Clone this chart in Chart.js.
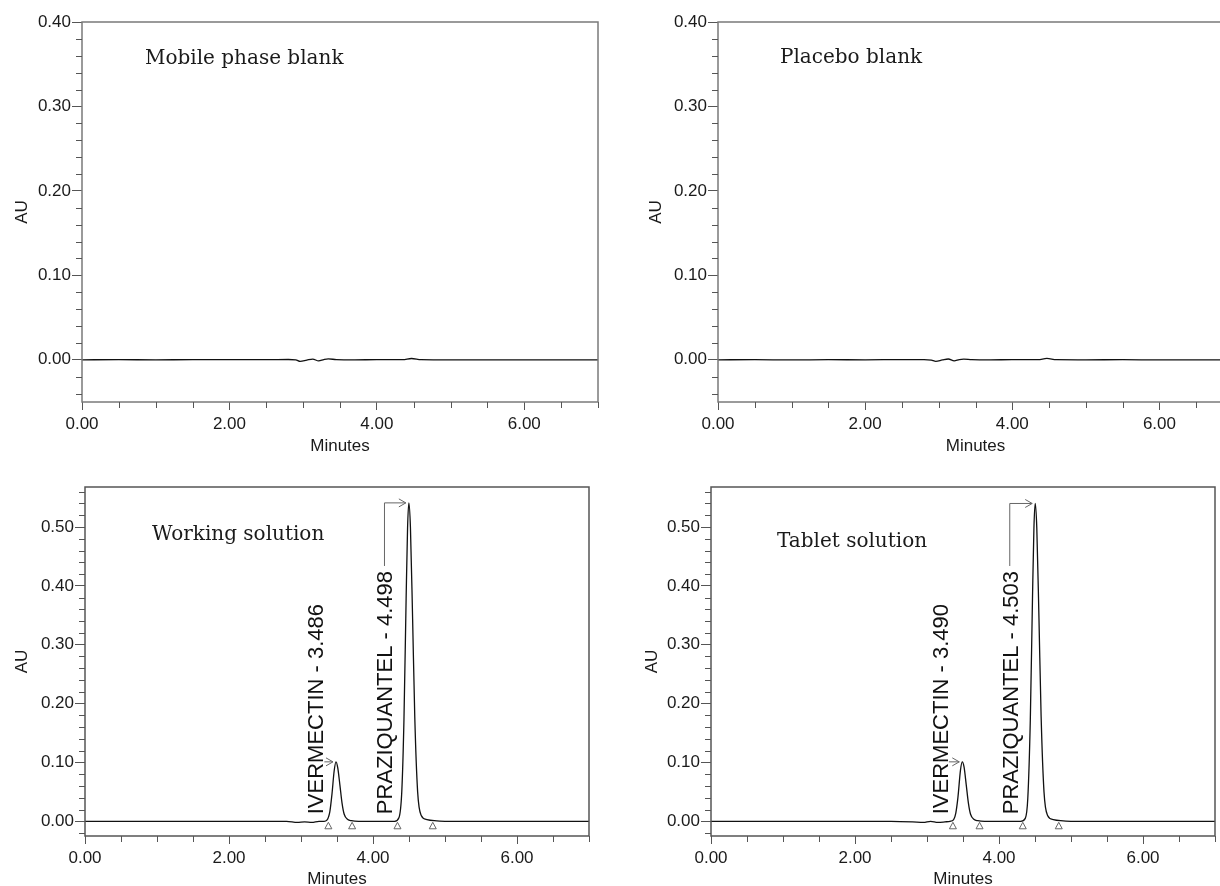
<!DOCTYPE html>
<html>
<head>
<meta charset="utf-8">
<title>Chromatograms</title>
<script src="https://cdn.jsdelivr.net/npm/chart.js@4.4.1/dist/chart.umd.min.js"></script>
<style>
  html, body { margin: 0; padding: 0; background: #fff; }
  body { width: 1220px; height: 886px; overflow: hidden; position: relative; }
  canvas { position: absolute; }
</style>
</head>
<body>
<canvas id="mobileBlank" width="610" height="460" style="left:0;top:0"></canvas>
<canvas id="placeboBlank" width="610" height="460" style="left:636px;top:0"></canvas>
<canvas id="workingSolution" width="600" height="425" style="left:0;top:465px"></canvas>
<canvas id="tabletSolution" width="600" height="425" style="left:626px;top:465px"></canvas>
<script>
// Blank runs (top row) - baseline only
const blankTimes = [0.00, 0.50, 1.00, 1.50, 2.00, 2.50, 2.80, 2.90, 2.96, 3.05, 3.13, 3.21, 3.28, 3.34, 3.45, 3.70, 4.00, 4.35, 4.47, 4.60, 5.00, 5.50, 6.00, 6.50, 7.00];
const mobileBlankAU = [0.0000, 0.0001, 0.0000, 0.0001, 0.0001, 0.0001, 0.0003, 0.0000, -0.0020, -0.0004, 0.0008, -0.0014, 0.0002, 0.0010, 0.0003, 0.0000, 0.0001, 0.0001, 0.0015, 0.0002, -0.0001, 0.0000, -0.0001, -0.0001, 0.0000];
const placeboBlankAU = [0.0000, 0.0001, -0.0001, 0.0001, 0.0000, 0.0002, 0.0002, -0.0003, -0.0018, -0.0002, 0.0009, -0.0013, 0.0003, 0.0008, 0.0002, 0.0000, 0.0001, 0.0001, 0.0016, 0.0001, 0.0000, 0.0001, -0.0001, 0.0000, 0.0000];

// Sample runs (bottom row)
const workingTimes = [0.00, 0.50, 1.00, 1.50, 2.00, 2.50, 2.80, 2.95, 3.05, 3.15, 3.25, 3.32, 3.36, 3.40, 3.43, 3.46, 3.486, 3.51, 3.54, 3.57, 3.60, 3.65, 3.70, 3.80, 4.00, 4.20, 4.30, 4.36, 4.40, 4.43, 4.46, 4.48, 4.498, 4.52, 4.55, 4.58, 4.62, 4.67, 4.75, 4.85, 5.00, 5.50, 6.00, 6.50, 7.00];
const workingAU = [0.000, 0.000, 0.000, 0.000, 0.000, 0.000, 0.000, -0.002, -0.001, -0.002, 0.000, 0.000, 0.002, 0.016, 0.046, 0.085, 0.101, 0.091, 0.062, 0.031, 0.012, 0.003, 0.001, 0.000, 0.000, 0.000, 0.000, 0.006, 0.051, 0.173, 0.378, 0.498, 0.541, 0.499, 0.345, 0.178, 0.050, 0.010, 0.003, 0.001, 0.000, 0.000, 0.000, 0.000, 0.000];
const tabletTimes = [0.00, 0.50, 1.00, 1.50, 2.00, 2.50, 2.80, 2.95, 3.05, 3.15, 3.25, 3.32, 3.37, 3.40, 3.43, 3.465, 3.49, 3.515, 3.545, 3.575, 3.605, 3.655, 3.705, 3.80, 4.00, 4.20, 4.30, 4.365, 4.40, 4.435, 4.465, 4.485, 4.503, 4.525, 4.555, 4.585, 4.625, 4.675, 4.755, 4.855, 5.00, 5.50, 6.00, 6.50, 7.00];
const tabletAU = [0.000, 0.000, 0.000, 0.000, 0.000, 0.000, -0.001, -0.002, 0.000, -0.002, -0.001, 0.000, 0.003, 0.014, 0.041, 0.087, 0.101, 0.092, 0.062, 0.031, 0.012, 0.003, 0.001, 0.000, 0.000, 0.000, 0.000, 0.005, 0.039, 0.173, 0.378, 0.498, 0.540, 0.498, 0.345, 0.178, 0.050, 0.010, 0.003, 0.001, 0.000, 0.000, 0.000, 0.000, 0.000];

// Integrated peaks
const peakNames = ['IVERMECTIN', 'PRAZIQUANTEL'];
const workingRT = [3.486, 4.498];
const workingHeight = [0.101, 0.541];
const workingStart = [3.38, 4.34];
const workingEnd = [3.71, 4.83];
const tabletRT = [3.490, 4.503];
const tabletHeight = [0.101, 0.540];
const tabletStart = [3.36, 4.33];
const tabletEnd = [3.73, 4.83];

// Axis steps
const timeLabelStep = 2;
const timeMinorStep = 0.5;
const auLabelStep = 0.1;
const auMinorStep = 0.02;

const sansFont = { family: '"Liberation Sans", Arial, sans-serif', size: 17 };
const inkColor = '#1a1a1a';

// Frame, minor ticks, panel title and peak annotations
const chromPlugin = {
    id: 'chrom',
    afterDraw(chart, args, o) {
        const { ctx, chartArea: a } = chart;
        const x = chart.scales.x;
        const y = chart.scales.y;
        ctx.save();

        ctx.strokeStyle = o.frameColor;
        ctx.lineWidth = 1.5;
        ctx.strokeRect(a.left, a.top, a.right - a.left, a.bottom - a.top);

        // minor ticks
        ctx.strokeStyle = '#555';
        ctx.lineWidth = 1;
        ctx.beginPath();
        const ratioY = Math.round(auLabelStep / auMinorStep);
        for (let k = Math.ceil(y.min / auMinorStep - 1e-9); k * auMinorStep <= y.max + 1e-9; k++) {
            if (k % ratioY === 0) continue;
            const py = Math.round(y.getPixelForValue(k * auMinorStep)) + 0.5;
            ctx.moveTo(a.left - 6, py);
            ctx.lineTo(a.left, py);
        }
        const ratioX = Math.round(timeLabelStep / timeMinorStep);
        for (let k = 1; k * timeMinorStep <= x.max + 1e-9; k++) {
            if (k % ratioX === 0) continue;
            const px = Math.round(x.getPixelForValue(k * timeMinorStep)) + 0.5;
            ctx.moveTo(px, a.bottom);
            ctx.lineTo(px, a.bottom + 6);
        }
        ctx.stroke();

        // panel title
        ctx.fillStyle = inkColor;
        ctx.font = '20px "DejaVu Serif", serif';
        ctx.textBaseline = 'middle';
        ctx.textAlign = 'left';
        ctx.fillText(o.title, a.left + o.titleDx, a.top + o.titleDy);

        if (o.peaks) {
            const p = o.peaks;
            const y0 = y.getPixelForValue(0);
            ctx.font = '22px "Liberation Sans", Arial, sans-serif';
            ctx.strokeStyle = '#666';
            ctx.lineWidth = 1;
            p.names.forEach((name, i) => {
                const apexX = x.getPixelForValue(p.rt[i]);
                const apexY = y.getPixelForValue(p.height[i]);
                const sx = x.getPixelForValue(p.start[i]);

                // baseline start / end markers
                [p.start[i], p.end[i]].forEach(t => {
                    const tx = x.getPixelForValue(t);
                    ctx.beginPath();
                    ctx.moveTo(tx, y0 + 1);
                    ctx.lineTo(tx - 3.5, y0 + 7.5);
                    ctx.lineTo(tx + 3.5, y0 + 7.5);
                    ctx.closePath();
                    ctx.stroke();
                });

                // rotated label
                const text = name + ' - ' + p.rt[i].toFixed(3);
                const bx = sx - 5;
                const by = y0 - 7;
                ctx.save();
                ctx.translate(bx, by);
                ctx.rotate(-Math.PI / 2);
                ctx.textBaseline = 'alphabetic';
                ctx.fillStyle = '#111';
                ctx.fillText(text, 0, 0);
                ctx.restore();

                // leader with open arrowhead
                const endY = by - ctx.measureText(text).width;
                const tipX = apexX - 3;
                ctx.beginPath();
                if (endY > apexY + 8) {
                    const lx = bx - 8;
                    ctx.moveTo(lx, endY - 5);
                    ctx.lineTo(lx, apexY);
                    ctx.lineTo(tipX, apexY);
                } else {
                    ctx.moveTo(bx + 1, apexY);
                    ctx.lineTo(tipX, apexY);
                }
                ctx.moveTo(tipX - 7, apexY - 4);
                ctx.lineTo(tipX, apexY);
                ctx.lineTo(tipX - 7, apexY + 4);
                ctx.stroke();
            });
        }
        ctx.restore();
    }
};

function makeChromatogram(id, times, values, opts) {
    const points = times.map((t, i) => ({ x: t, y: values[i] }));
    return new Chart(document.getElementById(id), {
        type: 'line',
        data: {
            datasets: [{
                data: points,
                borderColor: '#111',
                borderWidth: 1.3,
                pointRadius: 0,
                cubicInterpolationMode: 'monotone',
                fill: false
            }]
        },
        options: {
            responsive: false,
            animation: false,
            devicePixelRatio: 1,
            layout: { padding: { top: 22, right: opts.padRight, left: 0, bottom: 0 } },
            plugins: {
                legend: { display: false },
                tooltip: { enabled: false },
                chrom: {
                    title: opts.title,
                    titleDx: opts.titleDx,
                    titleDy: opts.titleDy,
                    frameColor: opts.frameColor,
                    peaks: opts.peaks || null
                }
            },
            scales: {
                x: {
                    type: 'linear',
                    min: 0,
                    max: 7,
                    afterFit: s => { s.height = opts.xAxisHeight; },
                    border: { display: false },
                    grid: { drawOnChartArea: false, tickLength: 8, color: '#555' },
                    ticks: {
                        stepSize: timeLabelStep,
                        includeBounds: false,
                        padding: 4,
                        maxRotation: 0,
                        autoSkip: false,
                        color: inkColor,
                        font: sansFont,
                        callback: v => v.toFixed(2)
                    },
                    title: {
                        display: true,
                        text: 'Minutes',
                        color: inkColor,
                        font: sansFont,
                        padding: { top: 0, bottom: opts.xTitlePad }
                    }
                },
                y: {
                    type: 'linear',
                    min: opts.yMin,
                    max: opts.yMax,
                    afterFit: s => { s.width = opts.yAxisWidth; },
                    border: { display: false },
                    grid: { drawOnChartArea: false, tickLength: 10, color: '#555' },
                    ticks: {
                        stepSize: auLabelStep,
                        includeBounds: false,
                        padding: 1,
                        color: inkColor,
                        font: sansFont,
                        callback: v => v.toFixed(2)
                    },
                    title: {
                        display: true,
                        text: 'AU',
                        color: inkColor,
                        font: sansFont,
                        padding: { top: opts.yTitlePad, bottom: 0 }
                    }
                }
            }
        },
        plugins: [chromPlugin]
    });
}

makeChromatogram('mobileBlank', blankTimes, mobileBlankAU, {
    title: 'Mobile phase blank', titleDx: 63, titleDy: 37, frameColor: '#7a7a7a',
    yMin: -0.05, yMax: 0.40, padRight: 12, yAxisWidth: 82, xAxisHeight: 58,
    xTitlePad: 3, yTitlePad: 12
});
makeChromatogram('placeboBlank', blankTimes, placeboBlankAU, {
    title: 'Placebo blank', titleDx: 62, titleDy: 36, frameColor: '#7a7a7a',
    yMin: -0.05, yMax: 0.40, padRight: 13, yAxisWidth: 82, xAxisHeight: 58,
    xTitlePad: 3, yTitlePad: 10
});
makeChromatogram('workingSolution', workingTimes, workingAU, {
    title: 'Working solution', titleDx: 67, titleDy: 48, frameColor: '#555',
    yMin: -0.025, yMax: 0.568, padRight: 11, yAxisWidth: 85, xAxisHeight: 54,
    xTitlePad: 0, yTitlePad: 12,
    peaks: { names: peakNames, rt: workingRT, height: workingHeight, start: workingStart, end: workingEnd }
});
makeChromatogram('tabletSolution', tabletTimes, tabletAU, {
    title: 'Tablet solution', titleDx: 66, titleDy: 55, frameColor: '#555',
    yMin: -0.025, yMax: 0.568, padRight: 11, yAxisWidth: 85, xAxisHeight: 54,
    xTitlePad: 0, yTitlePad: 16,
    peaks: { names: peakNames, rt: tabletRT, height: tabletHeight, start: tabletStart, end: tabletEnd }
});
</script>
</body>
</html>
